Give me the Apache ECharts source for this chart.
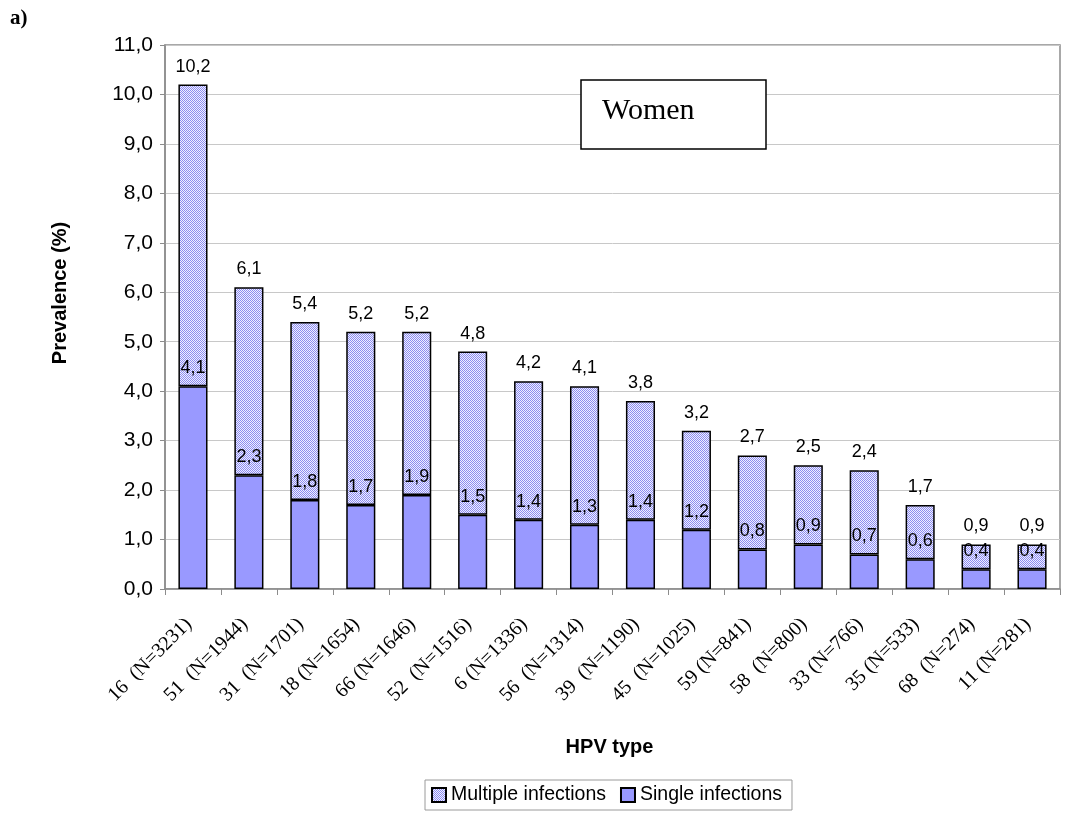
<!DOCTYPE html>
<html>
<head>
<meta charset="utf-8">
<script src="https://cdn.jsdelivr.net/npm/echarts@6/dist/echarts.min.js"></script>
<style>html,body{margin:0;padding:0;background:#fff;}#c{width:1076px;height:814px;}</style>
</head>
<body>
<div id="c"></div>
<script>
var categories = ["16  (N=3231)","51  (N=1944)","31  (N=1701)","18 (N=1654)","66 (N=1646)","52  (N=1516)","6 (N=1336)","56  (N=1314)","39  (N=1190)","45  (N=1025)","59 (N=841)","58  (N=800)","33 (N=766)","35 (N=533)","68  (N=274)","11 (N=281)"];
var totalValues = [10.2,6.1,5.4,5.2,5.2,4.8,4.2,4.1,3.8,3.2,2.7,2.5,2.4,1.7,0.9,0.9];
var singleValues = [4.1,2.3,1.8,1.7,1.9,1.5,1.4,1.3,1.4,1.2,0.8,0.9,0.7,0.6,0.4,0.4];
var multipleValues = totalValues.map(function(t,i){ return Math.round((t - singleValues[i])*10)/10; });

function comma(v){ return Number(v).toFixed(1).replace('.', ','); }

var cv = document.createElement('canvas');
cv.width = 2; cv.height = 2;
var cx = cv.getContext('2d');
cx.fillStyle = '#f0f0ff'; cx.fillRect(0,0,2,2);
cx.fillStyle = '#8c8cf0'; cx.fillRect(0,0,1,1); cx.fillRect(1,1,1,1);

var chart = echarts.init(document.getElementById('c'), null, {renderer:'canvas'});
var sans = 'Liberation Sans, Arial, sans-serif';
chart.setOption({
  animation:false,
  backgroundColor:'#fff',
  grid:{left:165, right:16, top:45, bottom:225, show:true, borderColor:'#8c8c8c', borderWidth:1.5, backgroundColor:'transparent'},
  legend:{
    bottom:4, left:425,
    data:['Multiple infections','Single infections'],
    itemWidth:14, itemHeight:14, itemGap:14,
    padding:[5,10,5,6],
    borderColor:'#9a9a9a', borderWidth:1, borderRadius:0,
    textStyle:{fontFamily:sans, fontSize:19.5, color:'#000'},
    icon:'rect'
  },
  xAxis:{
    type:'category', data:categories,
    name:'HPV type', nameLocation:'middle', nameGap:148,
    nameTextStyle:{fontFamily:sans, fontWeight:'bold', fontSize:20, color:'#000', padding:[0,6,0,0]},
    axisLine:{lineStyle:{color:'#8c8c8c', width:1.5}},
    axisTick:{show:true, alignWithLabel:false, length:6, lineStyle:{color:'#8c8c8c'}},
    axisLabel:{rotate:45, interval:0, margin:28, padding:[0,6,0,0], fontFamily:'Liberation Serif, Times New Roman, serif', fontSize:20, color:'#000'}
  },
  yAxis:{
    type:'value', min:0, max:11, interval:1,
    name:'Prevalence (%)', nameLocation:'middle', nameGap:95,
    nameTextStyle:{fontFamily:sans, fontWeight:'bold', fontSize:20, color:'#000', padding:[0,0,0,48]},
    axisLine:{show:true, lineStyle:{color:'#8c8c8c', width:1.5}},
    axisTick:{show:true, length:5, lineStyle:{color:'#8c8c8c'}},
    axisLabel:{formatter:function(v){return comma(v);}, margin:12, fontFamily:sans, fontSize:21, color:'#000'},
    splitLine:{show:true, lineStyle:{color:'#c8c8c8', width:1}}
  },
  series:[
    {
      name:'Single infections', type:'bar', stack:'s', data:singleValues,
      barCategoryGap:'48%',
      itemStyle:{color:'#9999ff', borderColor:'#000', borderWidth:1.5},
      label:{show:true, position:'top', distance:9, formatter:function(p){return comma(p.value);}, fontFamily:sans, fontSize:18, color:'#000'},
      z:3
    },
    {
      name:'Multiple infections', type:'bar', stack:'s', data:multipleValues,
      barCategoryGap:'48%',
      itemStyle:{color:{image:cv, repeat:'repeat'}, borderColor:'#000', borderWidth:1.5},
      label:{show:true, position:'top', distance:9, formatter:function(p){return comma(totalValues[p.dataIndex]);}, fontFamily:sans, fontSize:18, color:'#000'},
      z:2
    }
  ],
  graphic:[
    {type:'text', left:10, top:8, style:{text:'a)', font:'bold 21px "Liberation Serif", "Times New Roman", serif', fill:'#000'}},
    {type:'rect', shape:{x:581, y:80, width:185, height:69}, style:{fill:'#fff', stroke:'#000', lineWidth:1.5}, z:10},
    {type:'text', x:602, y:111, style:{text:'Women', font:'30px "Liberation Serif", "Times New Roman", serif', fill:'#000', verticalAlign:'middle'}, z:11}
  ]
});
</script>
</body>
</html>
